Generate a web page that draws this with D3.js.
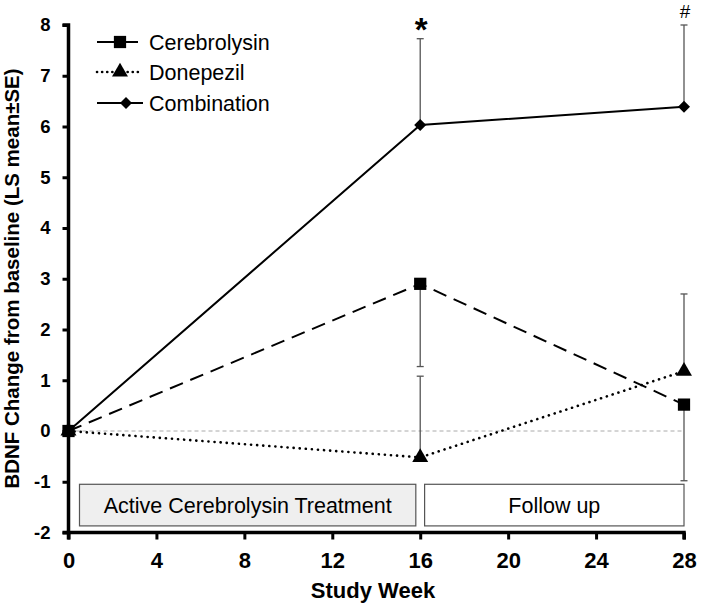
<!DOCTYPE html>
<html><head><meta charset="utf-8">
<script src="https://cdn.jsdelivr.net/npm/d3@7"></script>
<style>body{margin:0;background:#fff;} text{font-family:"Liberation Sans",Arial,sans-serif;}</style>
</head><body>
<svg id="c" width="701" height="606"></svg>
<script>
const weeks = [0, 16, 28];
const seriesNames = ["Cerebrolysin", "Donepezil", "Combination"];
const cerebrolysin = [0, 2.9, 0.52];
const donepezil = [0, -0.52, 1.18];
const combination = [0, 6.03, 6.39];
// error bar ends (one-sided)
const cerebrolysinErr = [null, 1.27, -0.98];
const donepezilErr = [null, 1.08, 2.7];
const combinationErr = [null, 7.73, 8.0];
const xTicks = [0, 4, 8, 12, 16, 20, 24, 28];
const yTicks = [-2, -1, 0, 1, 2, 3, 4, 5, 6, 7, 8];
const phases = [{label: "Active Cerebrolysin Treatment", x0: 0.5, x1: 15.8}, {label: "Follow up", x0: 16.2, x1: 28}];
const annotations = [{week: 16, text: "*"}, {week: 28, text: "#"}];

const svg = d3.select("#c");
const x = d3.scaleLinear().domain([0, 28]).range([68.5, 684]);
const y = d3.scaleLinear().domain([-2, 8]).range([532.5, 25]);

// reference line at zero
svg.append("line").attr("x1", x(0)).attr("x2", x(28)).attr("y1", y(0)).attr("y2", y(0))
  .attr("stroke", "#aaa").attr("stroke-width", 1).attr("stroke-dasharray", "4,3");

// phase boxes
const boxFill = ["#efefef", "#fff"];
phases.forEach((p, i) => {
  svg.append("rect").attr("x", x(p.x0)).attr("width", x(p.x1) - x(p.x0))
    .attr("y", y(-1.05)).attr("height", y(-1.87) - y(-1.05))
    .attr("fill", boxFill[i]).attr("stroke", "#555").attr("stroke-width", 1.2);
  svg.append("text").attr("x", (x(p.x0) + x(p.x1)) / 2).attr("y", y(-1.46) + 7.5)
    .attr("text-anchor", "middle").attr("font-size", 21.5).text(p.label);
});

// error bars
function errBars(vals, errs) {
  weeks.forEach((w, i) => {
    if (errs[i] === null) return;
    svg.append("line").attr("x1", x(w)).attr("x2", x(w)).attr("y1", y(vals[i])).attr("y2", y(errs[i]))
      .attr("stroke", "#555").attr("stroke-width", 1.3);
    svg.append("line").attr("x1", x(w) - 3.5).attr("x2", x(w) + 3.5).attr("y1", y(errs[i])).attr("y2", y(errs[i]))
      .attr("stroke", "#555").attr("stroke-width", 1.3);
  });
}
errBars(combination, combinationErr);
errBars(cerebrolysin, cerebrolysinErr);
errBars(donepezil, donepezilErr);

const line = d3.line().x((d, i) => x(weeks[i])).y(d => y(d));
svg.append("path").datum(cerebrolysin).attr("d", line).attr("fill", "none")
  .attr("stroke", "#000").attr("stroke-width", 2).attr("stroke-dasharray", "14,8");
svg.append("path").datum(donepezil).attr("d", line).attr("fill", "none")
  .attr("stroke", "#000").attr("stroke-width", 2.6).attr("stroke-linecap", "round").attr("stroke-dasharray", "0.1,6");
svg.append("path").datum(combination).attr("d", line).attr("fill", "none")
  .attr("stroke", "#000").attr("stroke-width", 2);

const sq = d3.symbol().type(d3.symbolSquare).size(150);
const tri = d3.symbol().type(d3.symbolTriangle).size(110);
const dia = d3.symbol().type(d3.symbolSquare).size(72);
function markers(vals, sym, rot) {
  vals.forEach((v, i) => svg.append("path").attr("d", sym())
    .attr("transform", `translate(${x(weeks[i])},${y(v)}) rotate(${rot})`).attr("fill", "#000"));
}
markers(donepezil, tri, 0);
markers(combination, dia, 45);
markers(cerebrolysin, sq, 0);

// axes
const yAxis = svg.append("g").attr("transform", `translate(${x(0)},0)`)
  .call(d3.axisLeft(y).tickValues(yTicks).tickSize(6).tickPadding(12).tickFormat(d3.format("d")));
const xAxis = svg.append("g").attr("transform", `translate(0,${y(-2)})`)
  .call(d3.axisBottom(x).tickValues(xTicks).tickSize(7).tickPadding(13));
[yAxis, xAxis].forEach(g => {
  g.select(".domain").attr("stroke", "#000").attr("stroke-width", 3.5);
  g.selectAll(".tick line").attr("stroke", "#000").attr("stroke-width", 3);
  g.selectAll("text").attr("font-weight", "bold").attr("fill", "#000")
    .style("font-family", "'Liberation Sans', Arial, sans-serif");
});
yAxis.selectAll("text").attr("font-size", 18.5).text(d => d < 0 ? "-" + Math.abs(d) : d);
xAxis.selectAll("text").attr("font-size", 22);
xAxis.select(".domain").attr("d", `M${x(0)},7V0H${x(28)}V7`);
yAxis.select(".domain").attr("d", `M-6,${y(8)}H0V${y(-2)}H-6`);

// titles
svg.append("text").attr("x", 373).attr("y", 598).attr("text-anchor", "middle")
  .attr("font-size", 22).attr("font-weight", "bold").text("Study Week");
svg.append("text").attr("transform", `translate(19,278.5) rotate(-90)`).attr("text-anchor", "middle")
  .attr("font-size", 20.5).attr("font-weight", "bold").text("BDNF Change from baseline (LS mean\u00B1SE)");

// annotations
annotations.forEach(a => {
  const big = a.text === "*";
  svg.append("text").attr("x", x(a.week) + (big ? 1 : 1)).attr("y", big ? 41 : 17.5).attr("text-anchor", "middle")
    .attr("font-size", big ? 33 : 19).attr("font-weight", big ? "bold" : "normal").text(a.text);
});

// legend
const legY = [42, 72, 103];
const legX2 = [138, 142, 143];
const legDash = ["none", "0.1,5", "none"];
const legSym = [sq, tri, dia];
const legRot = [0, 0, 45];
seriesNames.forEach((n, i) => {
  svg.append("line").attr("x1", 97).attr("x2", legX2[i]).attr("y1", legY[i]).attr("y2", legY[i])
    .attr("stroke", "#000").attr("stroke-width", i === 1 ? 2.6 : 2).attr("stroke-linecap", i === 1 ? "round" : "butt")
    .attr("stroke-dasharray", legDash[i]);
  svg.append("path").attr("d", legSym[i]()).attr("transform", `translate(${i === 2 ? 126 : 120},${legY[i]}) rotate(${legRot[i]})`).attr("fill", "#000");
  svg.append("text").attr("x", 149).attr("y", legY[i] + 7.5).attr("font-size", 21.5).text(n);
});
</script>
</body></html>
